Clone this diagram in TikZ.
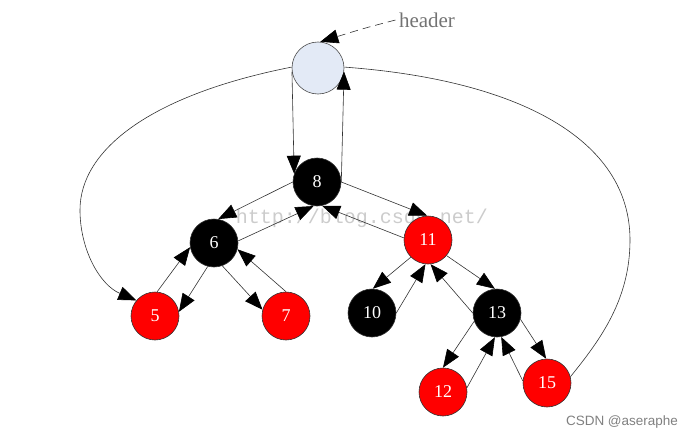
\documentclass[tikz,border=0pt]{standalone}
\usepackage{fontspec}
\setmainfont{Liberation Serif}
\newfontfamily\monofam{Liberation Mono}
\newfontfamily\sansfam{Liberation Sans}
\usetikzlibrary{arrows.meta}
\definecolor{hdrfill}{RGB}{227,234,246}
\begin{document}
\begin{tikzpicture}[x=1pt,y=-1pt,
  rb/.style={circle,draw=black!80,line width=0.6pt,minimum size=48pt,inner sep=0pt,font=\fontsize{18}{18}\selectfont,text=white},
  redn/.style={rb,fill=red},
  blackn/.style={rb,fill=black},
  arr/.style={-{Triangle[length=18pt,width=14pt,color=black]},line width=0.6pt,draw=black!80},
  plain/.style={line width=0.6pt,draw=black!80},
]
\useasboundingbox (0,0) rectangle (697,439);
\node[font=\monofam\fontsize{20}{20}\selectfont,text=black!20] (wm) at (362,218) {http://blog.csdn.net/};
\node[circle,draw=black!70,line width=0.6pt,fill=hdrfill,minimum size=52pt,inner sep=0pt] (h) at (318,68) {};
\node[font=\fontsize{21}{21}\selectfont,text=black!55] (hd) at (427,20) {header};
\node[blackn] (n8) at (317,182) {8};
\node[blackn] (n6) at (214,243) {6};
\node[redn] (n11) at (428,240) {11};
\node[redn] (n5) at (155,316) {5};
\node[redn] (n7) at (286,316) {7};
\node[blackn] (n10) at (372,313) {10};
\node[blackn] (n13) at (497,313) {13};
\node[redn] (n12) at (443,392) {12};
\node[redn] (n15) at (547,383) {15};
\node[font=\sansfam\fontsize{13.5}{13.5}\selectfont,text=black!50] (cs) at (622,422) {CSDN @aseraphe};
% header links
\draw[arr,dash pattern=on 8pt off 5pt] (hd.west) .. controls (365,28) .. (h.85);
\draw[arr] (h.188) -- (n8.160);
\draw[arr] (n8.0) -- (h.-8);
\draw[arr] (h.178) .. controls (150,95) and (80,150) .. (80,210) .. controls (80,250) and (100,285) .. (n5.140);
\draw[plain] (h.2) .. controls (520,80) and (630,140) .. (630,240) .. controls (630,300) and (600,340) .. (n15.15);
% tree links
\draw[arr] (n8.180) -- (n6.80);
\draw[arr] (n6.5) -- (n8.262);
\draw[arr] (n8.0) -- (n11.92);
\draw[arr] (n11.175) -- (n8.282);
\draw[arr] (n6.255) -- (n5.10);
\draw[arr] (n5.85) -- (n6.190);
\draw[arr] (n6.290) -- (n7.165);
\draw[arr] (n7.90) -- (n6.345);
\draw[arr] (n11.225) -- (n10.88);
\draw[arr] (n10.0) -- (n11.264);
\draw[arr] (n11.320) -- (n13.95);
\draw[arr] (n13.180) -- (n11.276);
\draw[arr] (n13.200) -- (n12.90);
\draw[arr] (n12.10) -- (n13.265);
\draw[arr] (n13.345) -- (n15.92);
\draw[arr] (n15.175) -- (n13.280);
\end{tikzpicture}
\end{document}
